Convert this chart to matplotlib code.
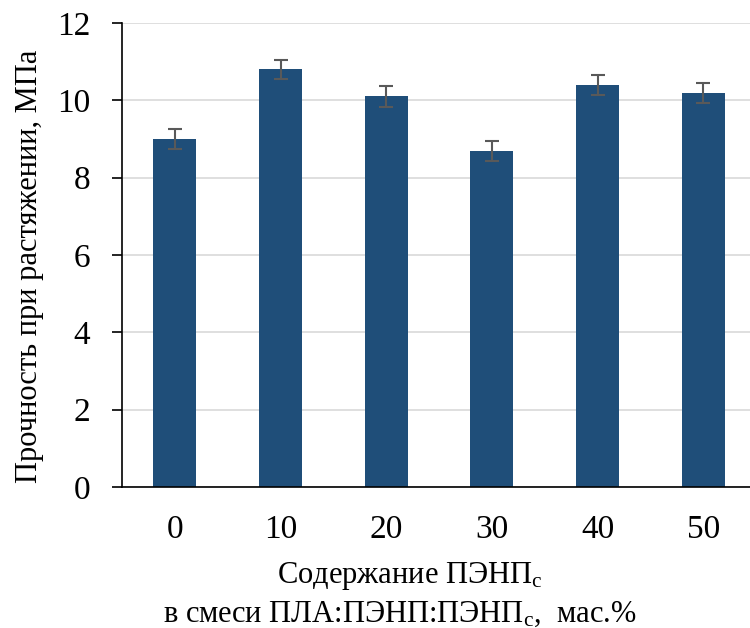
import matplotlib
matplotlib.use("Agg")
import matplotlib.pyplot as plt
import numpy as np

plt.rcParams['font.family'] = ['Liberation Serif', 'DejaVu Serif']
plt.rcParams['mathtext.fontset'] = 'custom'
plt.rcParams['mathtext.rm'] = 'Liberation Serif'
plt.rcParams['mathtext.it'] = 'Liberation Serif:italic'

categories = ['0', '10', '20', '30', '40', '50']
values = [9.0, 10.8, 10.1, 8.7, 10.4, 10.2]
errors = [0.26, 0.25, 0.26, 0.26, 0.25, 0.26]

W, H = 750, 628
fig = plt.figure(figsize=(7.5, 6.28), dpi=100)
ax = fig.add_axes([122/W, 1-487/H, (756-122)/W, (487-23)/H])

x = np.arange(len(categories))
ax.bar(x, values, width=0.41, color='#1F4E79', zorder=2)
ax.errorbar(x, values, yerr=errors, fmt='none', ecolor='#595959',
            elinewidth=1.5, capsize=5, capthick=1.5, zorder=3)

ax.set_xlim(-0.5, 5.5)
ax.set_ylim(0, 12)
ax.set_yticks(np.arange(0, 13, 2))
ax.set_xticks(x)
ax.set_xticklabels(categories)
ax.yaxis.grid(True, color='#d9d9d9', linewidth=1.2, zorder=0)
ax.set_axisbelow(True)
for s in ['top', 'right']:
    ax.spines[s].set_visible(False)
ax.spines['left'].set_linewidth(1.2)
ax.spines['bottom'].set_linewidth(1.2)
ax.tick_params(axis='y', length=7, width=1.2, labelsize=24, pad=16, direction='out')
ax.tick_params(axis='x', length=0, labelsize=24, pad=20)

fig.text(30/W, 1-266/H, 'Прочность при растяжении, МПа', rotation=90,
         ha='center', va='center', fontsize=22)
fig.text(410/W, 1-583/H, 'Содержание ПЭНП$_\\mathrm{с}$',
         ha='center', va='baseline', fontsize=22)
fig.text(400/W, 1-622/H, 'в смеси ПЛА:ПЭНП:ПЭНП$_\\mathrm{с}$,  мас.%',
         ha='center', va='baseline', fontsize=22)

fig.savefig('out.png', dpi=100)
